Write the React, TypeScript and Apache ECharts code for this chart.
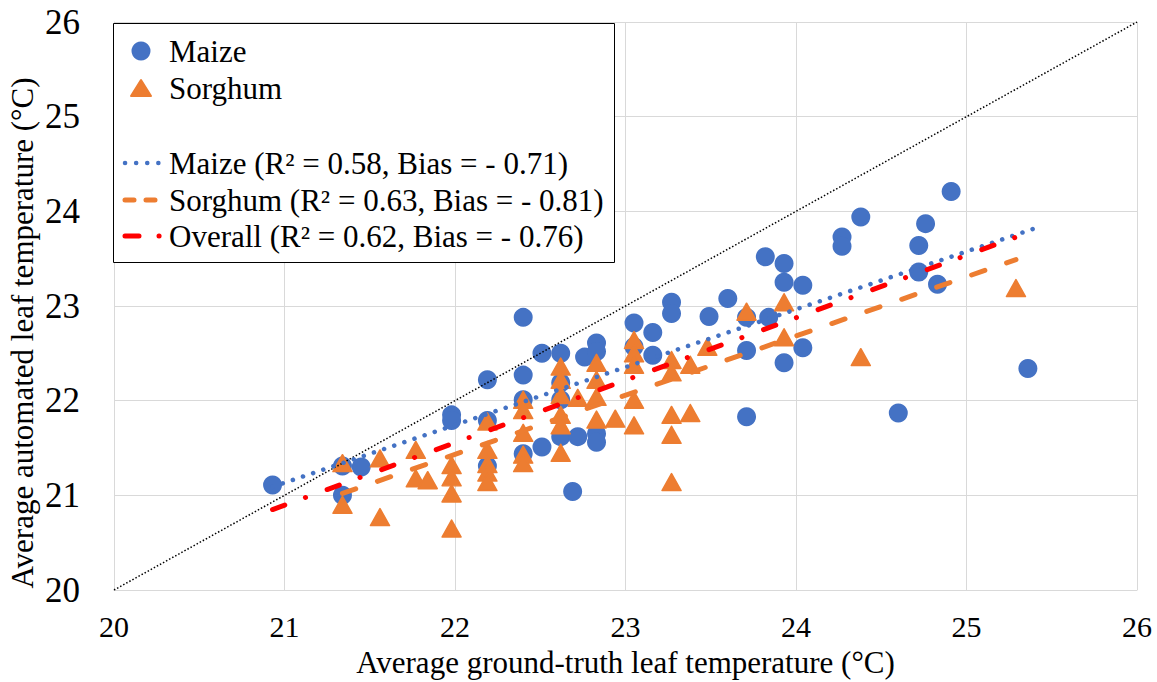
import React, { useEffect, useRef } from "react";
import * as echarts from "echarts";

const FONT = "'Times New Roman', 'Liberation Serif', serif";

const maizePoints: [number, number][] = [
  [20.93, 21.11], [21.34, 21.31], [21.34, 21.0], [21.45, 21.3], [21.98, 21.85], [21.98, 21.79],
  [22.19, 22.22], [22.19, 21.79], [22.19, 21.31], [22.4, 22.88], [22.4, 22.27], [22.4, 22.01],
  [22.4, 21.44], [22.51, 22.5], [22.51, 21.51], [22.62, 22.5], [22.62, 22.19], [22.62, 22.01],
  [22.62, 21.62], [22.69, 21.04], [22.72, 21.62], [22.76, 22.46], [22.83, 22.61], [22.83, 22.52],
  [22.83, 21.65], [22.83, 21.56], [23.05, 22.82], [23.05, 22.57], [23.16, 22.72], [23.16, 22.48],
  [23.27, 23.04], [23.27, 22.92], [23.49, 22.89], [23.6, 23.08], [23.71, 22.88], [23.71, 22.53],
  [23.71, 21.83], [23.82, 23.52], [23.84, 22.88], [23.93, 23.45], [23.93, 23.25], [23.93, 22.4],
  [24.04, 23.22], [24.04, 22.56], [24.27, 23.73], [24.27, 23.63], [24.38, 23.94], [24.6, 21.87],
  [24.72, 23.64], [24.72, 23.36], [24.76, 23.87], [24.83, 23.23], [24.91, 24.21], [25.36, 22.34],
];

const sorghumPoints: [number, number][] = [
  [21.34, 21.34], [21.34, 20.9], [21.56, 21.39], [21.56, 20.77], [21.77, 21.48], [21.77, 21.18],
  [21.84, 21.16], [21.98, 21.32], [21.98, 21.19], [21.98, 21.02], [21.98, 20.65], [22.19, 21.78],
  [22.19, 21.48], [22.19, 21.33], [22.19, 21.24], [22.19, 21.14], [22.4, 22.01], [22.4, 21.9],
  [22.4, 21.66], [22.4, 21.43], [22.4, 21.34], [22.62, 22.36], [22.62, 22.22], [22.62, 22.06],
  [22.62, 21.85], [22.62, 21.74], [22.62, 21.45], [22.72, 22.03], [22.83, 22.4], [22.83, 22.22],
  [22.83, 22.04], [22.83, 21.8], [22.94, 21.81], [23.05, 22.64], [23.05, 22.5], [23.05, 22.38],
  [23.05, 22.01], [23.05, 21.74], [23.27, 22.43], [23.27, 22.3], [23.27, 21.85], [23.27, 21.64],
  [23.27, 21.14], [23.38, 22.38], [23.38, 21.87], [23.48, 22.57], [23.71, 22.94], [23.93, 23.04],
  [23.93, 22.67], [24.38, 22.46], [25.29, 23.19],
];

const identityLine: [number, number][] = [[20, 20], [26, 26]];
const maizeTrend: [number, number][] = [[20.93, 21.09], [25.4, 23.82]];
const sorghumTrend: [number, number][] = [[21.34, 21.02], [25.29, 23.49]];
const overallTrend: [number, number][] = [[20.93, 20.85], [25.4, 23.8]];

const legendLabels = [
  "Maize",
  "Sorghum",
  "Maize (R² = 0.58, Bias = - 0.71)",
  "Sorghum (R² = 0.63, Bias = - 0.81)",
  "Overall (R² = 0.62, Bias = - 0.76)",
];

const xTitle = "Average ground-truth leaf temperature (°C)";
const yTitle = "Average automated leaf temperature (°C)";

const BLUE = "#4472C4";
const ORANGE = "#ED7D31";
const RED = "#FF0000";

export default function App() {
  const ref = useRef<HTMLDivElement>(null);
  useEffect(() => {
    if (!ref.current) return;
    const chart = echarts.init(ref.current, undefined, { renderer: "svg" });
    const textY = [51, 88, 163, 200, 236];
    const graphics: any[] = [
      {
        type: "rect",
        shape: { x: 113.5, y: 23.5, width: 501, height: 239 },
        style: { fill: "#fff", stroke: "#000", lineWidth: 1 },
        z: 100,
      },
      {
        type: "circle",
        shape: { cx: 141, cy: textY[0], r: 9.5 },
        style: { fill: BLUE },
        z: 101,
      },
      {
        type: "polygon",
        shape: { points: [[141, textY[1] - 8], [131, textY[1] + 8], [151, textY[1] + 8]] },
        style: { fill: ORANGE, stroke: ORANGE, lineWidth: 2, lineJoin: "round" },
        z: 101,
      },
      {
        type: "line",
        shape: { x1: 125, y1: textY[2], x2: 160, y2: textY[2] },
        style: { stroke: BLUE, lineWidth: 4.5, lineDash: [0.1, 11], lineCap: "round" },
        z: 101,
      },
      {
        type: "line",
        shape: { x1: 125, y1: textY[3], x2: 159, y2: textY[3] },
        style: { stroke: ORANGE, lineWidth: 5, lineDash: [9, 12], lineCap: "round" },
        z: 101,
      },
      {
        type: "line",
        shape: { x1: 125, y1: textY[4], x2: 160, y2: textY[4] },
        style: { stroke: RED, lineWidth: 5, lineDash: [14, 20, 0.1, 20], lineCap: "round" },
        z: 101,
      },
      {
        type: "text",
        x: 22,
        y: 333,
        rotation: Math.PI / 2,
        style: {
          text: yTitle,
          font: `31px ${FONT}`,
          fill: "#000",
          align: "center",
          verticalAlign: "middle",
          textAlign: "center",
          textVerticalAlign: "middle",
        },
        z: 50,
      },
    ];
    legendLabels.forEach((t, i) => {
      graphics.push({
        type: "text",
        x: 169,
        y: textY[i],
        style: {
          text: t,
          font: `31px ${FONT}`,
          fill: "#000",
          textVerticalAlign: "middle",
          verticalAlign: "middle",
        },
        z: 101,
      });
    });

    chart.setOption({
      animation: false,
      backgroundColor: "#fff",
      grid: {
        left: 114,
        top: 22,
        right: 20,
        bottom: 92,
        containLabel: false,
        outerBoundsMode: "none",
      },
      xAxis: {
        type: "value",
        min: 20,
        max: 26,
        interval: 1,
        name: xTitle,
        nameLocation: "middle",
        nameGap: 57,
        nameTextStyle: { fontFamily: FONT, fontSize: 31, color: "#000" },
        axisLine: { show: true, lineStyle: { color: "#d9d9d9", width: 1 } },
        axisTick: { show: false },
        axisLabel: { fontFamily: FONT, fontSize: 30, color: "#000", margin: 21 },
        splitLine: { show: true, lineStyle: { color: "#d9d9d9", width: 1 } },
      },
      yAxis: {
        type: "value",
        min: 20,
        max: 26,
        interval: 1,
        axisLine: { show: true, lineStyle: { color: "#d9d9d9", width: 1 } },
        axisTick: { show: false },
        axisLabel: { fontFamily: FONT, fontSize: 35, color: "#000", margin: 34 },
        splitLine: { show: true, lineStyle: { color: "#d9d9d9", width: 1 } },
      },
      series: [
        {
          name: "Maize",
          type: "scatter",
          data: maizePoints,
          symbol: "circle",
          symbolSize: 19,
          itemStyle: { color: BLUE, opacity: 1 },
          z: 2,
        },
        {
          name: "Sorghum",
          type: "scatter",
          data: sorghumPoints,
          symbol: "triangle",
          symbolSize: [19, 17],
          itemStyle: {
            color: ORANGE,
            opacity: 1,
            borderColor: ORANGE,
            borderWidth: 1.5,
            borderJoin: "round",
          },
          z: 3,
        },
        {
          name: "1:1",
          type: "line",
          data: identityLine,
          showSymbol: false,
          symbol: "none",
          lineStyle: { color: "#000", width: 1.5, type: [1.5, 2] },
          z: 4,
        },
        {
          name: "Maize trend",
          type: "line",
          data: maizeTrend,
          symbol: "none",
          lineStyle: { color: BLUE, width: 4.5, type: [0.1, 10.6], cap: "round" },
          z: 5,
        },
        {
          name: "Sorghum trend",
          type: "line",
          data: sorghumTrend,
          symbol: "none",
          lineStyle: { color: ORANGE, width: 5, type: [14, 23], cap: "round" },
          z: 6,
        },
        {
          name: "Overall trend",
          type: "line",
          data: overallTrend,
          symbol: "none",
          lineStyle: { color: RED, width: 5, type: [13, 22, 0.1, 23], cap: "round" },
          z: 7,
        },
      ],
      graphic: graphics,
    });
    return () => chart.dispose();
  }, []);
  return (
    <div
      ref={ref}
      style={{ position: "fixed", left: 0, top: 0, width: 1157, height: 682, background: "#fff" }}
    />
  );
}
